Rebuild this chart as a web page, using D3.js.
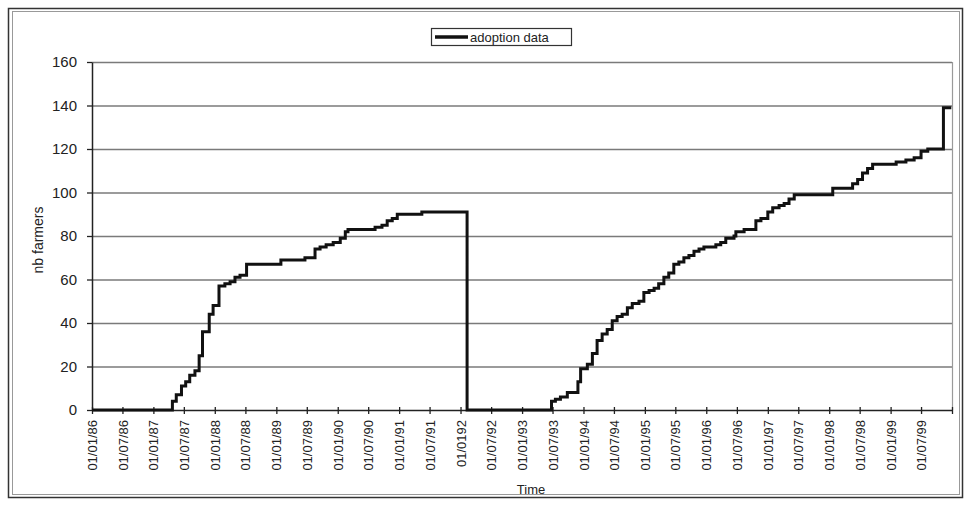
<!DOCTYPE html>
<html>
<head>
<meta charset="utf-8">
<script src="https://cdn.jsdelivr.net/npm/d3@7"></script>
<style>
  html, body { margin: 0; padding: 0; background: #fff; }
  svg { display: block; font-family: "Liberation Sans", Arial, sans-serif; }
</style>
</head>
<body>
<svg id="chart" width="967" height="505"></svg>
<script>
// ---- data ----
const seriesName = "adoption data";
const adoptionDates = [
  "1986-01-01","1987-04-24","1987-05-17","1987-06-17","1987-07-12","1987-08-05","1987-09-05",
  "1987-09-30","1987-10-20","1987-11-29","1987-12-22","1988-01-26","1988-03-01","1988-04-01",
  "1988-04-30","1988-05-30","1988-07-08","1989-01-28","1989-06-20","1989-08-19","1989-09-18",
  "1989-10-24","1989-12-05","1990-01-16","1990-02-15","1990-03-03","1990-08-11","1990-09-21",
  "1990-10-22","1990-11-21","1990-12-21","1991-05-16","1992-02-09",
  "1993-06-25","1993-07-18","1993-08-17","1993-09-27","1993-11-29","1993-12-15","1994-01-24",
  "1994-02-23","1994-03-23","1994-04-22","1994-05-22","1994-06-21","1994-07-20","1994-08-19",
  "1994-09-19","1994-10-18","1994-11-27","1994-12-26","1995-01-26","1995-02-25","1995-03-24",
  "1995-04-24","1995-05-23","1995-06-22","1995-07-22","1995-08-21","1995-09-20","1995-10-20",
  "1995-11-19","1995-12-18","1996-02-27","1996-03-27","1996-04-26","1996-06-14","1996-06-25",
  "1996-08-13","1996-10-22","1996-11-21","1997-01-01","1997-01-30","1997-03-09","1997-04-08",
  "1997-05-07","1997-06-07","1998-01-22","1998-05-20","1998-06-19","1998-07-18","1998-08-17",
  "1998-09-16","1999-02-03","1999-04-02","1999-05-21","1999-07-01","1999-08-10","1999-11-11",
  "1999-12-28"
];
const adoptionFarmers = [
  0,4,7,11,13,16,18,
  25,36,44,48,57,58,59,
  61,62,67,69,70,74,75,
  76,77,79,82,83,84,85,
  87,88,90,91,0,
  4,5,6,8,13,19,21,
  26,32,35,37,41,43,44,
  47,49,50,54,55,56,58,
  61,63,67,68,70,71,73,
  74,75,76,77,79,80,82,
  83,87,88,91,93,94,95,
  97,99,102,104,106,109,111,
  113,114,115,116,119,120,139,
  139
];
const yTicks = [0,20,40,60,80,100,120,140,160];
const xTickLabels = [
  "01/01/86","01/07/86","01/01/87","01/07/87","01/01/88","01/07/88","01/01/89","01/07/89",
  "01/01/90","01/07/90","01/01/91","01/07/91","01/0192","01/07/92","01/01/93","01/07/93",
  "01/01/94","01/07/94","01/01/95","01/07/95","01/01/96","01/07/96","01/01/97","01/07/97",
  "01/01/98","01/07/98","01/01/99","01/07/99",""
];
const xStart = "1986-01-01", xEnd = "2000-01-01";
const yTitle = "nb farmers", xTitle = "Time";

// ---- drawing ----
const parse = d3.utcParse("%Y-%m-%d");
const data = adoptionDates.map((d, i) => ({ date: parse(d), value: adoptionFarmers[i] }));

const svg = d3.select("#chart");
const L = 92, R = 952, T = 62, B = 410;

// chart frames
svg.append("rect").attr("x", 8.5).attr("y", 8.5).attr("width", 954).attr("height", 489)
  .attr("fill", "#fff").attr("stroke", "#333").attr("stroke-width", 1.5);
svg.append("rect").attr("x", 12.5).attr("y", 11.5).attr("width", 947).attr("height", 483)
  .attr("fill", "none").attr("stroke", "#999").attr("stroke-width", 1);

const x = d3.scaleUtc().domain([parse(xStart), parse(xEnd)]).range([L, R]);
const y = d3.scaleLinear().domain([0, 160]).range([B, T]);

// gridlines
svg.append("g").selectAll("line").data(yTicks.filter(v => v > 0)).join("line")
  .attr("x1", L).attr("x2", R)
  .attr("y1", d => y(d) + 0.5).attr("y2", d => y(d) + 0.5)
  .attr("stroke", "#7a7a7a").attr("stroke-width", 1.5);
// plot-area right border
svg.append("line").attr("x1", R + 0.5).attr("x2", R + 0.5).attr("y1", T).attr("y2", B)
  .attr("stroke", "#9a9a9a").attr("stroke-width", 1.2);

// y axis
const yAxis = svg.append("g").attr("transform", `translate(${L},0)`)
  .call(d3.axisLeft(y).tickValues(yTicks).tickSize(5).tickPadding(10).tickSizeOuter(0));
yAxis.select(".domain").attr("stroke", "#222").attr("stroke-width", 1.5);
yAxis.selectAll(".tick line").attr("stroke", "#222").attr("stroke-width", 1.3);
yAxis.selectAll(".tick text").attr("font-size", 15).attr("fill", "#222")
  .attr("font-family", "Liberation Sans, Arial, sans-serif");

// x axis
const xTickDates = d3.utcMonth.every(6).range(parse(xStart), d3.utcDay.offset(parse(xEnd), 1));
const xAxis = svg.append("g").attr("transform", `translate(0,${B})`)
  .call(d3.axisBottom(x).tickValues(xTickDates).tickSize(4).tickSizeOuter(0)
    .tickFormat((d, i) => xTickLabels[i] || ""));
xAxis.select(".domain").attr("stroke", "#222").attr("stroke-width", 1.5);
xAxis.selectAll(".tick line").attr("stroke", "#222").attr("stroke-width", 1.3).attr("y1", -3);
xAxis.selectAll(".tick text")
  .attr("font-size", 13).attr("fill", "#222")
  .attr("font-family", "Liberation Sans, Arial, sans-serif")
  .attr("transform", "rotate(-90)")
  .attr("text-anchor", "end")
  .attr("x", -10).attr("y", 0).attr("dy", "0.35em");

// axis titles
svg.append("text").attr("transform", "translate(43,240) rotate(-90)")
  .attr("text-anchor", "middle").attr("font-size", 14).attr("fill", "#222").text(yTitle);
svg.append("text").attr("x", 531).attr("y", 494)
  .attr("text-anchor", "middle").attr("font-size", 13).attr("fill", "#222").text(xTitle);

// series line
const line = d3.line().x(d => x(d.date)).y(d => y(d.value)).curve(d3.curveStepAfter);
svg.append("path").datum(data).attr("d", line)
  .attr("fill", "none").attr("stroke", "#111").attr("stroke-width", 3)
  .attr("stroke-linejoin", "miter");

// legend
const lg = svg.append("g").attr("transform", "translate(431,28)");
lg.append("rect").attr("x", 0.5).attr("y", 0.5).attr("width", 140).attr("height", 17)
  .attr("fill", "#fff").attr("stroke", "#333").attr("stroke-width", 1.2);
lg.append("line").attr("x1", 4).attr("x2", 37).attr("y1", 9).attr("y2", 9)
  .attr("stroke", "#111").attr("stroke-width", 3.5);
lg.append("text").attr("x", 39).attr("y", 13.5).attr("font-size", 13).attr("fill", "#222")
  .text(seriesName);
</script>
</body>
</html>
